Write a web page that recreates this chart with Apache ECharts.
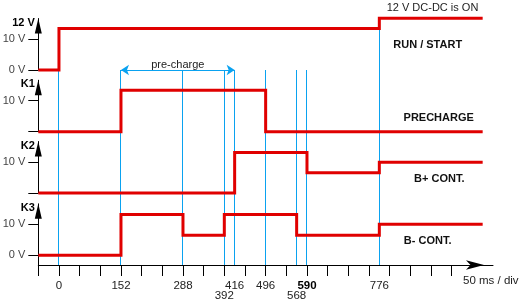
<!DOCTYPE html>
<html><head><meta charset="utf-8">
<script src="https://cdn.jsdelivr.net/npm/echarts@6/dist/echarts.min.js"></script>
<style>html,body{margin:0;padding:0;background:#fff}#c{width:520px;height:302px}</style>
</head><body><div id="c"></div>
<script>
// ---------------- data ----------------
const channelNames = ['12 V', 'K1', 'K2', 'K3'];
const channelTitles = ['RUN / START', 'PRECHARGE', 'B+ CONT.', 'B- CONT.'];
// switching instants (time-axis divisions from the origin) and the level (V) reached at each instant
const runTimes  = [0, 1, 16.5, 21.5];
const runLevels = [0, 13.4, 16.7, 16.7];
const k1Times   = [0, 4, 11, 21.5];
const k1Levels  = [0, 13.4, 0, 0];
const k2Times   = [0, 9.5, 13, 16.5, 21.5];
const k2Levels  = [0, 13.1, 6.5, 9.9, 9.9];
const k3Times   = [0, 4, 7, 9, 12.5, 16.5, 21.5];
const k3Levels  = [0, 13.2, 6.5, 13.2, 6.5, 10, 10];
// event markers on the time axis
const eventPos    = [1, 4, 7, 9, 9.5, 11, 12.5, 13, 16.5];
const eventLabels = ['0', '152', '288', '392', '416', '496', '568', '590', '776'];
const eventRow    = [0, 0, 0, 1, 0, 0, 1, 0, 0];
const eventBold   = [false, false, false, false, false, false, false, true, false];
const markerTop   = [0, 0, 0, 0, 0, 0, 0, 0, 13.4];   // top of each marker, in RUN/START volts
const prechargeSpan = [4, 9.5];
const timeTicks = [0, 1, 2, 3, 4, 5, 6, 7, 8, 9, 10, 11, 12, 13, 14, 15, 16, 17, 18, 19, 20];
const voltTicks = [0, 10];
const voltLabels = [[0, 10], [10], [10], [0, 10]];
const timeUnit = '50 ms / div';
const dcdcNote = '12 V DC-DC is ON';
const prechargeNote = 'pre-charge';

// ---------------- layout ----------------
const FONT = 'Liberation Sans, Arial, sans-serif';
const RED = '#e00000', BLUE = '#0aa2f0';
const LEFT = 38.3, AXIS_END = 493, X_MAX = 22;
const RIGHT = 520 - AXIS_END;
const ZERO_Y = [70, 131.7, 193, 255.3];
const PXV = 3.1, V_TOP = 16.6, AXIS_Y = 265;

const chTimes = [runTimes, k1Times, k2Times, k3Times];
const chLevels = [runLevels, k1Levels, k2Levels, k3Levels];

const grids = [], xAxes = [], yAxes = [], series = [];
for (let i = 0; i < 4; i++) {
  const top = ZERO_Y[i] - V_TOP * PXV;
  const bottomPx = i === 3 ? AXIS_Y : ZERO_Y[i];
  grids.push({ left: LEFT, right: RIGHT, top: top, height: bottomPx - top, outerBoundsMode: 'none', containLabel: false });
  const isTime = i === 3;
  xAxes.push({
    gridIndex: i, type: 'value', min: 0, max: X_MAX, show: isTime,
    splitLine: { show: false },
    axisLine: { show: true, onZero: false, symbol: ['none', 'arrow'], symbolSize: [7, 18], symbolOffset: [0, -9],
      lineStyle: { color: '#000', width: 1 } },
    axisTick: { show: true, length: 11, customValues: timeTicks, lineStyle: { color: '#000', width: 1 } },
    axisLabel: {
      show: true, customValues: eventPos, margin: 16, fontSize: 11.5, lineHeight: 10, color: '#222', fontFamily: FONT,
      formatter: function (v) {
        let k = eventPos.findIndex(p => Math.abs(p - v) < 1e-6);
        if (k < 0) return '';
        let t = eventBold[k] ? '{b|' + eventLabels[k] + '}' : eventLabels[k];
        return eventRow[k] ? '\n' + t : t;
      },
      rich: { b: { fontWeight: 'bold', color: '#000', fontSize: 11.5, lineHeight: 10, fontFamily: FONT } }
    }
  });
  yAxes.push({
    gridIndex: i, type: 'value', min: i === 3 ? -(AXIS_Y - ZERO_Y[3]) / PXV : 0, max: V_TOP,
    name: channelNames[i], nameLocation: 'end', nameGap: -4, nameMoveOverlap: false,
    nameTextStyle: { fontWeight: 'bold', fontSize: 11, color: '#000', align: 'right', verticalAlign: 'middle',
      padding: [0, 3.5, 0, 0], fontFamily: FONT },
    splitLine: { show: false },
    axisLine: { show: true, onZero: false, symbol: ['none', 'triangle'], symbolSize: [7, 15], symbolOffset: [0, -7.5],
      lineStyle: { color: '#000', width: 1 } },
    axisTick: { show: true, length: 10, customValues: voltTicks, lineStyle: { color: '#000', width: 1 } },
    axisLabel: { show: true, customValues: voltLabels[i], margin: 13, fontSize: 11, color: '#444', fontFamily: FONT,
      formatter: v => v + ' V' }
  });
}
// overlay grid for markers (scaled in RUN/START volts)
const oTop = ZERO_Y[0] - V_TOP * PXV;
const oMin = -(AXIS_Y - ZERO_Y[0]) / PXV;
grids.push({ left: LEFT, right: RIGHT, top: oTop, height: AXIS_Y - oTop, outerBoundsMode: 'none', containLabel: false });
xAxes.push({ gridIndex: 4, type: 'value', min: 0, max: X_MAX, show: false });
yAxes.push({ gridIndex: 4, type: 'value', min: oMin, max: V_TOP, show: false });

// vertical event markers: drawn through the axes, snapped to crisp pixels
series.push({
  type: 'custom', xAxisIndex: 4, yAxisIndex: 4, silent: true, z: 1, clip: false,
  data: eventPos.map((t, k) => [t, markerTop[k]]),
  renderItem: function (params, api) {
    const p1 = api.coord([api.value(0), api.value(1)]);
    const p2 = api.coord([api.value(0), oMin]);
    const x = Math.round(p1[0] - 0.5) + 0.5;
    return { type: 'line', shape: { x1: x, y1: p1[1], x2: x, y2: p2[1] },
      style: { stroke: BLUE, lineWidth: 1 } };
  }
});
series.push({
  type: 'line', xAxisIndex: 4, yAxisIndex: 4, data: [], silent: true, z: 1,
  markLine: {
    silent: true, symbol: ['arrow', 'arrow'], symbolSize: 8, animation: false,
    label: { show: true, position: 'middle', formatter: prechargeNote, color: '#222', fontSize: 11, distance: 0, fontFamily: FONT },
    lineStyle: { color: BLUE, width: 1, type: 'solid', opacity: 1 },
    emphasis: { disabled: true },
    data: [[{ coord: [prechargeSpan[0], 0] }, { coord: [prechargeSpan[1], 0] }]]
  }
});
for (let i = 0; i < 4; i++) {
  series.push({
    type: 'line', xAxisIndex: i, yAxisIndex: i, step: 'end', clip: false, z: 5,
    symbol: 'none', silent: true,
    lineStyle: { color: RED, width: 3, join: 'miter', cap: 'butt' },
    data: chTimes[i].map((t, k) => [t, chLevels[i][k]])
  });
}

const titleX = [427.7, 438.7, 439.3, 427.7];
const titleY = [45, 118.3, 179.3, 240.7];
const graphic = channelTitles.map((s, i) => ({
  type: 'text', x: titleX[i], y: titleY[i], silent: true,
  style: { text: s, fill: '#111', font: 'bold 11px ' + FONT, align: 'center', verticalAlign: 'middle' }
}));
graphic.push({ type: 'text', x: 432.5, y: 7.5, silent: true,
  style: { text: dcdcNote, fill: '#222', font: '11px ' + FONT, align: 'center', verticalAlign: 'middle' } });
graphic.push({ type: 'text', x: 490.8, y: 280.7, silent: true,
  style: { text: timeUnit, fill: '#222', font: '11.5px ' + FONT, align: 'center', verticalAlign: 'middle' } });

const chart = echarts.init(document.getElementById('c'), null, { renderer: 'canvas' });
chart.setOption({
  animation: false,
  backgroundColor: '#ffffff',
  textStyle: { fontFamily: FONT },
  grid: grids, xAxis: xAxes, yAxis: yAxes, series: series, graphic: graphic
});
</script></body></html>
